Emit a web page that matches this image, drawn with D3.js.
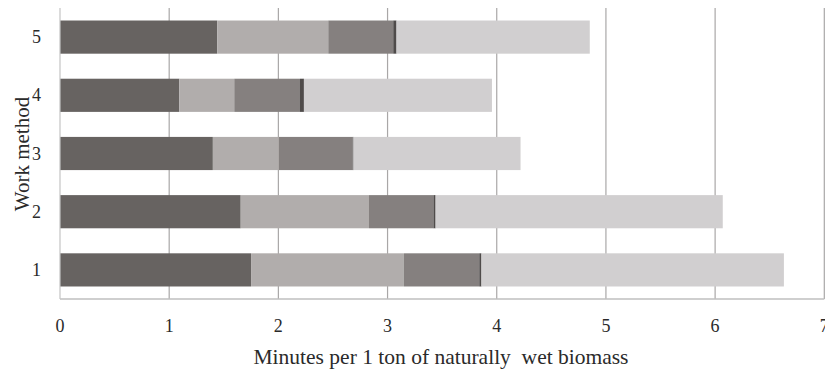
<!DOCTYPE html>
<html><head><meta charset="utf-8">
<script src="https://cdn.jsdelivr.net/npm/d3@7"></script>
<style>body{margin:0;background:#fff}svg{display:block}</style>
</head><body>
<script>
const categories = ["1","2","3","4","5"];
const seriesNames = ["s1","s2","s3","s4","s5"];
const s1 = [1.75, 1.655, 1.40, 1.093, 1.44];
const s2 = [1.40, 1.175, 0.605, 0.503, 1.017];
const s3 = [0.69, 0.59, 0.675, 0.602, 0.595];
const s4 = [0.02, 0.02, 0.008, 0.036, 0.03];
const s5 = [2.77, 2.63, 1.53, 1.722, 1.77];
const xTicks = [0,1,2,3,4,5,6,7];
const colors = ["#676361","#b1adac","#85807f","#4f4b4a","#d1cfd0"];

const W = 825, H = 372;
const svg = d3.select("body").append("svg").attr("width",W).attr("height",H);

const x = d3.scaleLinear().domain([0,7]).range([60, 824.3]);
const y = d3.scaleBand().domain(categories.slice().reverse()).range([8, 299]).paddingInner(0.43).paddingOuter(0.215);

const rows = categories.map((c,i)=>({cat:c, s1:s1[i], s2:s2[i], s3:s3[i], s4:s4[i], s5:s5[i]}));
const stack = d3.stack().keys(seriesNames)(rows);

// gridlines
svg.append("g").selectAll("line").data(xTicks.filter(d=>d>0)).join("line")
  .attr("x1",d=>x(d)).attr("x2",d=>x(d)).attr("y1",8).attr("y2",299)
  .attr("stroke","#a9a7a7").attr("stroke-width",1.2);

// bars
svg.append("g").selectAll("g").data(stack).join("g").attr("fill",(d,i)=>colors[i])
  .selectAll("rect").data(d=>d).join("rect")
  .attr("x",d=>x(d[0])).attr("width",d=>x(d[1])-x(d[0]))
  .attr("y",d=>y(d.data.cat)).attr("height",y.bandwidth());

// axes lines
svg.append("line").attr("x1",60).attr("x2",824.3).attr("y1",299).attr("y2",299).attr("stroke","#bfbfbf").attr("stroke-width",1.3);
svg.append("line").attr("x1",60).attr("x2",60).attr("y1",8).attr("y2",299).attr("stroke","#c4c4c4").attr("stroke-width",1.2);

const font = "'Liberation Serif','Times New Roman',serif";
// x tick labels
svg.append("g").selectAll("text").data(xTicks).join("text")
  .attr("x",d=>x(d)).attr("y",332).attr("text-anchor","middle")
  .attr("font-family",font).attr("font-size",18).attr("fill","#2a2a2a")
  .text(d=>d);
// y tick labels
svg.append("g").selectAll("text").data(categories).join("text")
  .attr("x",41).attr("y",d=>y(d)+y.bandwidth()/2+6).attr("text-anchor","end")
  .attr("font-family",font).attr("font-size",18).attr("fill","#2a2a2a")
  .text(d=>d);
// axis titles
svg.append("text").attr("x",441).attr("y",364).attr("text-anchor","middle")
  .attr("font-family",font).attr("font-size",21.5).attr("fill","#2a2a2a")
  .attr("xml:space","preserve").text("Minutes per 1 ton of naturally  wet biomass");
svg.append("text").attr("transform","translate(29,154) rotate(-90)").attr("text-anchor","middle")
  .attr("font-family",font).attr("font-size",21).attr("fill","#2a2a2a")
  .text("Work method");
</script>
</body></html>
